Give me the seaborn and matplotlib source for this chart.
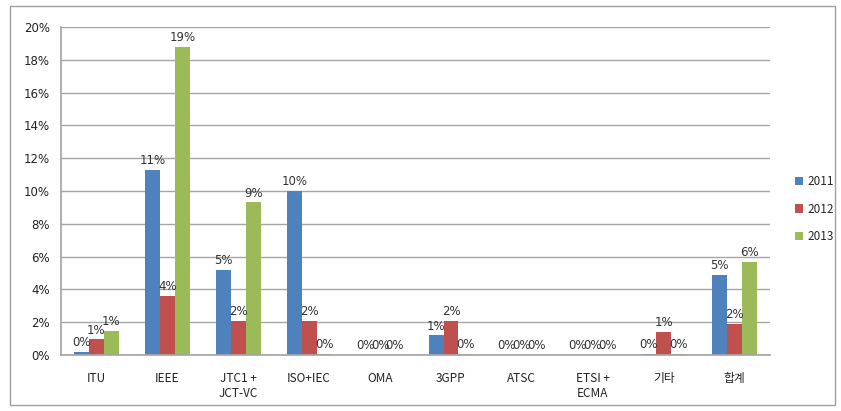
import matplotlib
matplotlib.use("Agg")
import matplotlib.pyplot as plt
import pandas as pd
import seaborn as sns
from matplotlib.patches import Rectangle
from matplotlib.ticker import PercentFormatter

sns.set_theme(style="white")
plt.rcParams['font.family'] = ['Noto Sans CJK KR', 'DejaVu Sans']

categories = ["ITU", "IEEE", "JTC1 +\nJCT-VC", "ISO+IEC", "OMA", "3GPP", "ATSC", "ETSI +\nECMA", "기타", "합계"]
years = ["2011", "2012", "2013"]
v2011 = [0.2, 11.3, 5.2, 10.0, 0.0, 1.2, 0.0, 0.0, 0.05, 4.9]
v2012 = [0.95, 3.6, 2.1, 2.1, 0.0, 2.1, 0.0, 0.0, 1.4, 1.9]
v2013 = [1.46, 18.8, 9.3, 0.05, 0.0, 0.05, 0.0, 0.0, 0.05, 5.7]
colors = ["#4F81BD", "#C0504D", "#9BBB59"]

df = pd.DataFrame({
    "cat": categories * 3,
    "year": [y for y in years for _ in categories],
    "val": v2011 + v2012 + v2013,
})

fig = plt.figure(figsize=(8.41, 4.11), dpi=100)
ax = fig.add_axes([61 / 841, 1 - 355 / 411, 709 / 841, 328 / 411])

sns.barplot(data=df, x="cat", y="val", hue="year", palette=colors,
            width=0.63, ax=ax, saturation=1, edgecolor="none")

for cont in ax.containers:
    ax.bar_label(cont, labels=[f"{round(b.get_height())}%" for b in cont],
                 fontsize=8.5, color="#333333", padding=2, family="DejaVu Sans")

ax.set_ylim(0, 20)
ax.set_yticks(range(0, 21, 2))
ax.yaxis.set_major_formatter(PercentFormatter(decimals=0))
ax.grid(axis="y", color="#a6a6a6", linewidth=1)
ax.set_axisbelow(True)
ax.set_xlabel("")
ax.set_ylabel("")
ax.tick_params(axis="both", labelsize=8.5, colors="#222222", length=0)
ax.tick_params(axis="x", pad=12)
ax.tick_params(axis="y", pad=8)
for lbl in ax.get_yticklabels():
    lbl.set_family("DejaVu Sans")
for s in ["top", "right"]:
    ax.spines[s].set_visible(False)
for s in ["left", "bottom"]:
    ax.spines[s].set_color("#a6a6a6")

leg = ax.legend(loc="center left", bbox_to_anchor=(1.02, 0.445), frameon=False,
                fontsize=8.5, handlelength=0.7, handleheight=0.7, handletextpad=0.4,
                labelspacing=1.25)

fig.patches.append(Rectangle((10 / 841, 6 / 411), 825 / 841, 399 / 411,
                             transform=fig.transFigure, fill=False,
                             edgecolor="#a0a0a0", linewidth=1))

fig.savefig("out.png", dpi=100)
